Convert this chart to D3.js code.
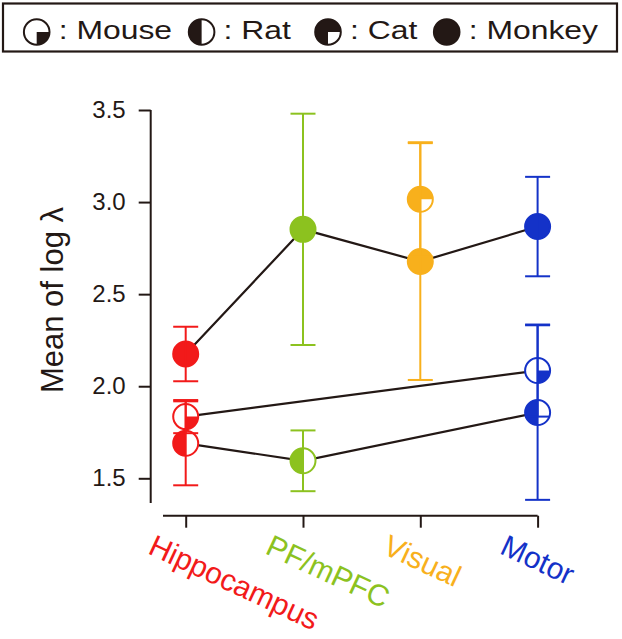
<!DOCTYPE html>
<html>
<head>
<meta charset="utf-8">
<script src="https://cdn.jsdelivr.net/npm/d3@7"></script>
<style>
html,body{margin:0;padding:0;background:#fff;}
svg{display:block;font-family:"Liberation Sans",Arial,Helvetica,sans-serif;}
</style>
</head>
<body>
<svg id="chart" width="622" height="639"></svg>
<script>
// ---- data ----
const regions = ["Hippocampus", "PF/mPFC", "Visual", "Motor"];
const regionColors = ["#f21a1a", "#8cc21f", "#f8b01c", "#1432c8"];
const yTicks = [1.5, 2.0, 2.5, 3.0, 3.5];
const species = ["Mouse", "Rat", "Cat", "Monkey"];

// mean and error (half-length) per region, null = absent
const mouseMean  = [1.835, null, null, 2.085];
const mouseErr   = [0.09, null, null, 0.25];
const ratMean    = [1.69, 1.595, null, 1.857];
const ratErr     = [0.228, 0.165, null, 0.474];
const catMean    = [null, null, 3.015, null];
const catErr     = [null, null, 0.31, null];
const monkeyMean = [2.175, 2.852, 2.677, 2.867];
const monkeyErr  = [0.148, 0.628, 0.643, 0.27];

const yLabel = "Mean of log λ";

// ---- layout ----
const svg = d3.select("#chart");
const ink = "#231815";
const x = d3.scalePoint().domain(regions).range([185.7, 537.6]);
const y = d3.scaleLinear().domain([1.5, 3.5]).range([478.3, 110]);
const color = d3.scaleOrdinal().domain(regions).range(regionColors);
const R = 12.5;

// legend
svg.append("rect").attr("x", 3).attr("y", 3.5).attr("width", 614).attr("height", 48)
  .attr("fill", "#fff").attr("stroke", ink).attr("stroke-width", 2.2);

function glyphPath(sp, r) {
  if (sp === "Mouse") return `M0,0L${r},0A${r},${r} 0 0 1 0,${r}Z`;
  if (sp === "Rat") return `M0,${-r}A${r},${r} 0 0 0 0,${r}Z`;
  if (sp === "Cat") return `M0,0L0,${r}A${r},${r} 0 1 1 ${r},0Z`;
  return `M${r},0A${r},${r} 0 1 1 ${-r},0A${r},${r} 0 1 1 ${r},0Z`;
}
function drawGlyph(g, sp, col, r) {
  g.append("circle").attr("r", r).attr("fill", "#fff");
  g.append("path").attr("d", glyphPath(sp, r)).attr("fill", col);
  g.append("circle").attr("r", r).attr("fill", "none").attr("stroke", col).attr("stroke-width", 2);
}

const legendGlyphX = [36.7, 201.6, 328, 446.7];
const legend = svg.append("g");
species.forEach((sp, i) => {
  const g = legend.append("g").attr("transform", `translate(${legendGlyphX[i]},32)`);
  drawGlyph(g, sp, ink, 12.8);
  legend.append("text").attr("transform", `translate(${legendGlyphX[i] + 22},38.5) scale(1.25,1)`)
    .attr("font-size", 25.5).attr("fill", ink).text(": " + sp);
});

// axes
const yAxis = svg.append("g").attr("transform", "translate(150.7,0)")
  .call(d3.axisLeft(y).tickValues(yTicks).tickFormat(d3.format(".1f")).tickSize(12).tickPadding(13));
yAxis.select(".domain").attr("d", `M-0,${y(3.5)}V503`);
const xAxis = svg.append("g").attr("transform", "translate(0,515.7)")
  .call(d3.axisBottom(x).tickSize(12).tickFormat(""));
xAxis.select(".domain").attr("d", `M163,0H${x("Motor")}`);
[yAxis, xAxis].forEach(a => {
  a.selectAll(".domain,.tick line").attr("stroke", ink).attr("stroke-width", 2);
  a.selectAll("text").attr("fill", ink).attr("font-size", 24)
   .attr("font-family", "Liberation Sans, Arial, sans-serif");
});

// x labels
svg.append("g").selectAll("text").data(regions).join("text")
  .attr("transform", d => `translate(${x(d) - 39},553) rotate(25)`)
  .attr("font-size", 30).attr("fill", d => color(d)).text(d => d);

// y label
svg.append("text").attr("transform", "translate(63,300) rotate(-90)")
  .attr("text-anchor", "middle").attr("font-size", 31).attr("fill", ink).text(yLabel);

// series
const seriesDefs = [
  {sp: "Monkey", mean: monkeyMean, err: monkeyErr},
  {sp: "Mouse", mean: mouseMean, err: mouseErr},
  {sp: "Rat", mean: ratMean, err: ratErr},
  {sp: "Cat", mean: catMean, err: catErr}
];
const pts = s => regions.map((r, i) => ({r, m: s.mean[i], e: s.err[i]})).filter(p => p.m != null);

const line = d3.line().x(p => x(p.r)).y(p => y(p.m));
seriesDefs.forEach(s => {
  const p = pts(s);
  if (p.length > 1)
    svg.append("path").attr("d", line(p)).attr("fill", "none").attr("stroke", ink).attr("stroke-width", 2.2);
});
seriesDefs.forEach(s => {
  pts(s).forEach(p => {
    const g = svg.append("g").attr("transform", `translate(${x(p.r)},${y(p.m)})`);
    drawGlyph(g, s.sp, color(p.r), R);
  });
});
seriesDefs.forEach(s => {
  pts(s).forEach(p => {
    const cx = x(p.r), c = color(p.r), y0 = y(p.m - p.e), y1 = y(p.m + p.e);
    const g = svg.append("g").attr("stroke", c).attr("stroke-width", 2);
    g.append("line").attr("x1", cx).attr("x2", cx).attr("y1", y0).attr("y2", y1);
    g.append("line").attr("x1", cx - 12.5).attr("x2", cx + 12.5).attr("y1", y0).attr("y2", y0);
    g.append("line").attr("x1", cx - 12.5).attr("x2", cx + 12.5).attr("y1", y1).attr("y2", y1);
  });
});
</script>
</body>
</html>
